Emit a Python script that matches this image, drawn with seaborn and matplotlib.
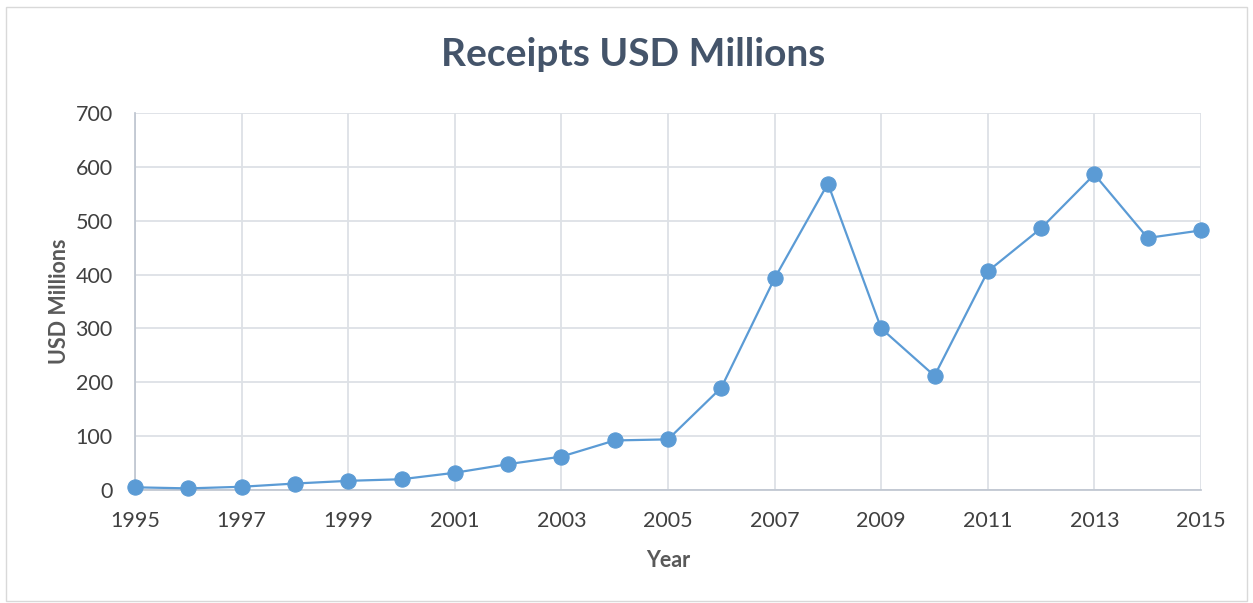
import matplotlib
matplotlib.use("Agg")
import matplotlib.pyplot as plt
import seaborn as sns
import pandas as pd

years = list(range(1995, 2016))
receipts = [5, 3, 6, 12, 17, 20, 32, 48, 62, 92, 94, 190, 393, 569, 300, 212, 406, 486, 586, 468, 482]
y_ticks = [0, 100, 200, 300, 400, 500, 600, 700]
x_ticks = list(range(1995, 2016, 2))

sns.set_theme(style="white")
plt.rcParams['font.family'] = ['Lato', 'DejaVu Sans']

df = pd.DataFrame({"Year": years, "USD Millions": receipts})

fig = plt.figure(figsize=(12.53, 6.03), dpi=100)
ax = fig.add_axes([135/1253, 1 - 490/603, (1201-135)/1253, (490-113)/603])

text_col = "#44546A"
grid_col = "#DDE1E6"
line_col = "#5B9BD5"

sns.lineplot(data=df, x="Year", y="USD Millions", ax=ax, color=line_col, linewidth=1.6,
             marker="o", markersize=11, markeredgecolor=line_col, markerfacecolor=line_col,
             clip_on=False, zorder=3)

ax.set_xlim(1995, 2015)
ax.set_ylim(0, 700)
ax.set_xticks(x_ticks)
ax.set_yticks(y_ticks)
ax.grid(True, color=grid_col, linewidth=1.3)
ax.set_axisbelow(True)
for s in ["top", "right"]:
    ax.spines[s].set_visible(False)
ax.spines["left"].set_color("#BFC6D0")
ax.spines["bottom"].set_color("#BFC6D0")
ax.tick_params(axis="both", length=0, labelsize=15.5, colors="#404040")
ax.tick_params(axis="x", pad=15)
ax.tick_params(axis="y", pad=16)
ax.set_xlabel("Year", fontsize=15.5, fontweight="bold", color="#595959", labelpad=14)
ax.set_ylabel("USD Millions", fontsize=15.5, fontweight="bold", color="#595959", labelpad=4)

fig.text(0.505, 1 - 55/603, "Receipts USD Millions", ha="center", va="center",
         fontsize=28, fontweight="bold", color=text_col)

border = plt.Rectangle((6/1253, 0.003), 1 - 12/1253, 1 - 7/603 - 0.003, transform=fig.transFigure,
                       fill=False, edgecolor="#D9D9D9", linewidth=1)
fig.patches.append(border)

fig.savefig("out.png", dpi=100)
